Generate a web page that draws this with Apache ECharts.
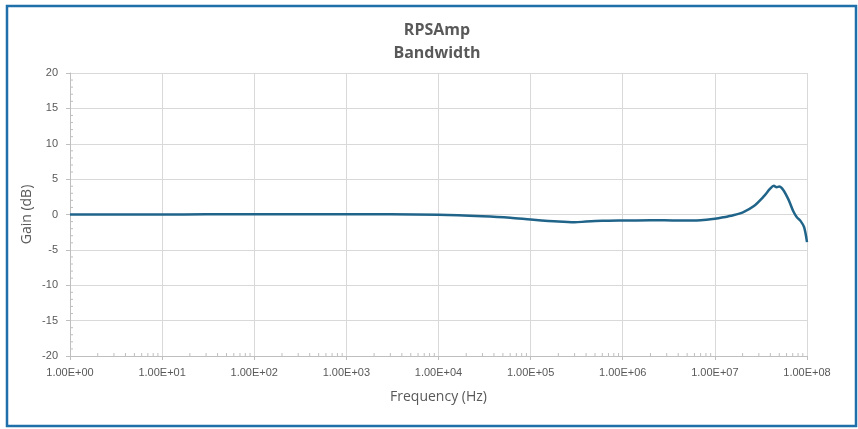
<!DOCTYPE html>
<html><head><meta charset="utf-8">
<script src="https://cdn.jsdelivr.net/npm/echarts@6/dist/echarts.min.js"></script>
<style>html,body{margin:0;padding:0;background:#fff}#c{width:858px;height:429px}</style>
</head><body><div id="c"></div>
<script>
const titleLines = ['RPSAmp', 'Bandwidth'];
const xAxisName = 'Frequency (Hz)';
const yAxisName = 'Gain (dB)';
const freqHz = [1, 3, 10, 30, 100, 300, 1000, 3000, 10000, 30000, 60000, 100000, 200000, 300000, 400000, 600000, 1e6, 2e6, 4e6, 7e6, 1e7, 1.23e7, 1.58e7, 2.04e7, 2.63e7, 3.39e7, 3.98e7, 4.37e7, 4.68e7, 5.0e7, 5.5e7, 6.3e7, 7.1e7, 7.76e7, 8.5e7, 9.3e7, 1e8];
const gainDb = [0, 0, 0, 0.02, 0.04, 0.05, 0.05, 0.02, -0.05, -0.25, -0.45, -0.7, -1.0, -1.1, -1.0, -0.9, -0.85, -0.8, -0.85, -0.8, -0.6, -0.4, -0.1, 0.35, 1.15, 2.55, 3.65, 4.05, 3.85, 3.95, 3.5, 2.1, 0.45, -0.4, -0.9, -1.8, -3.9];
const xMinorMult = [2, 3, 4, 5, 6, 7, 8, 9];
const decades = [0, 1, 2, 3, 4, 5, 6, 7];
const yMinorTicks = [];
for (let v = -19; v <= 19; v++) if (v % 5 !== 0) yMinorTicks.push(v);

const xMinorTicks = [];
decades.forEach(d => xMinorMult.forEach(m => xMinorTicks.push([m * Math.pow(10, d), -20])));

function fmtE(v) {
  const e = Math.round(Math.log10(v));
  const m = v / Math.pow(10, e);
  const es = (e < 0 ? '-' : '+') + String(Math.abs(e)).padStart(2, '0');
  return m.toFixed(2) + 'E' + es;
}

const txt = '#595959';
const chart = echarts.init(document.getElementById('c'));
chart.setOption({
  animation: false,
  backgroundColor: '#fff',
  title: {
    text: titleLines.join('\n'),
    left: 432, top: 14, textAlign: 'center',
    textStyle: { fontFamily: 'Open Sans', fontWeight: 'bold', fontSize: 16, color: txt, lineHeight: 23 }
  },
  graphic: [{
    type: 'rect', shape: { x: 7, y: 6, width: 849, height: 420 },
    style: { fill: 'none', stroke: '#1F6FAA', lineWidth: 2.5 }, silent: true, z: 100
  }],
  grid: { left: 70, right: 51, top: 73, bottom: 73 },
  xAxis: {
    type: 'log', logBase: 10, min: 1, max: 1e8,
    name: xAxisName, nameLocation: 'middle', nameGap: 34,
    nameTextStyle: { fontFamily: 'Open Sans', fontSize: 14, color: txt },
    axisLine: { show: true, onZero: false, lineStyle: { color: '#bfbfbf' } },
    axisTick: { show: true, length: 4, lineStyle: { color: '#bfbfbf' } },
    axisLabel: { formatter: fmtE, color: txt, fontFamily: 'Liberation Sans', fontSize: 11, margin: 11 },
    splitLine: { show: true, lineStyle: { color: '#d9d9d9', width: 1 } }
  },
  yAxis: {
    type: 'value', min: -20, max: 20, interval: 5,
    name: yAxisName, nameLocation: 'middle', nameGap: 36, nameMoveOverlap: false,
    nameTextStyle: { fontFamily: 'Open Sans', fontSize: 14, color: txt },
    axisLine: { show: true, lineStyle: { color: '#bfbfbf' } },
    axisTick: { show: true, length: 4, lineStyle: { color: '#bfbfbf' } },
    axisLabel: { color: txt, fontFamily: 'Liberation Sans', fontSize: 11, margin: 12 },
    splitLine: { show: true, lineStyle: { color: '#d9d9d9', width: 1 } }
  },
  series: [
    {
      type: 'line', data: freqHz.map((f, i) => [f, gainDb[i]]),
      showSymbol: false, smooth: 0.3, z: 5,
      lineStyle: { color: '#216489', width: 2.5 }
    },
    {
      type: 'custom', silent: true, clip: false, z: 3,
      data: xMinorTicks,
      renderItem: (params, api) => {
        const p = api.coord([api.value(0), api.value(1)]);
        return { type: 'line', shape: { x1: p[0], y1: p[1], x2: p[0], y2: p[1] - 3 }, style: { stroke: '#bfbfbf', lineWidth: 1 } };
      }
    },
    {
      type: 'custom', silent: true, clip: false, z: 3,
      data: yMinorTicks.map(v => [1, v]),
      renderItem: (params, api) => {
        const p = api.coord([api.value(0), api.value(1)]);
        return { type: 'line', shape: { x1: p[0], y1: p[1], x2: p[0] + 3, y2: p[1] }, style: { stroke: '#bfbfbf', lineWidth: 1 } };
      }
    }
  ]
});
</script></body></html>
